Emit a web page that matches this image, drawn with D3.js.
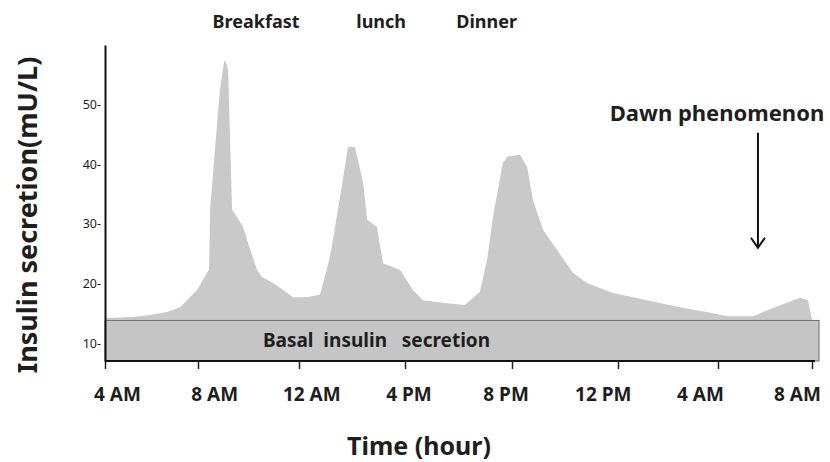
<!DOCTYPE html>
<html>
<head>
<meta charset="utf-8">
<script src="https://cdn.jsdelivr.net/npm/d3@7"></script>
<style>
  body { margin: 0; background: #fff; }
  text { font-family: "Noto Sans", "DejaVu Sans", sans-serif; fill: #1e1e1e; }
</style>
</head>
<body>
<script>
// chart size
var w = 830;
var h = 462;

// hours after 4 AM, and insulin secretion (mU/L)
var hours   = [0, 1.2, 1.94, 2.67, 3.23, 3.53, 3.96, 4.36, 4.44, 4.48, 4.67, 4.87, 5.03, 5.07, 5.19, 5.35,
               5.54, 5.78, 5.98, 6.34, 6.53, 6.97, 7.37, 7.76, 8.3, 8.79, 8.91, 9.17, 9.55, 9.85, 10.11,
               10.42, 10.57, 10.94, 11.17, 11.81, 12.3, 12.67, 13.57, 14.24, 14.8, 15.07, 15.29, 15.66,
               15.85, 16.3, 16.57, 16.79, 17.17, 17.7, 18.3, 18.83, 19.81, 21.16, 22.48, 23.8, 24.38,
               25.49, 26.34, 27.49, 27.83, 28];
var insulin = [14.2, 14.4, 14.7, 15.2, 16.0, 17.2, 18.9, 21.8, 22.3, 32.4, 42.4, 52.5, 57.0, 57.5, 55.9, 32.4,
               31.2, 29.5, 26.8, 22.3, 21.1, 20.1, 18.9, 17.7, 17.7, 18.1, 20.1, 24.5, 34.5, 42.9, 42.9,
               36.9, 30.7, 29.5, 23.4, 22.3, 18.9, 17.2, 16.7, 16.4, 18.6, 24.0, 31.2, 40.3,
               41.3, 41.6, 39.6, 34.0, 29.0, 25.6, 21.8, 20.1, 18.4, 17.2, 16.0, 15.0, 14.5,
               14.5, 15.9, 17.6, 17.2, 13.9];

// axis ticks
var tickHours  = [0, 4, 8, 12, 16, 20, 24, 28];
var tickLabels = ["4 AM", "8 AM", "12 AM", "4 PM", "8 PM", "12 PM", "4 AM", "8 AM"];
var yTicks     = [10, 20, 30, 40, 50];

// basal band and annotations
var basalTop   = 13.8;
var basalEnd   = 28.3;
var mealNames  = ["Breakfast", "lunch", "Dinner"];
var mealHours  = [6.3, 11.1, 15.05];
var dawnHour   = 25.7;
var dawnFrom   = 45.3;
var dawnTo     = 26.0;

var svg = d3.select("body").append("svg").attr("width", w).attr("height", h);

// the ticks in the original are not quite evenly spaced
var x = d3.scaleLinear()
    .domain(tickHours)
    .range([105, 198, 299, 405, 512, 618, 718, 812]);

// labels sit evenly under the ticks
var xLabel = d3.scaleLinear()
    .domain([0, 28])
    .range([117, 797]);

var y = d3.scaleLinear()
    .domain([7, 60])
    .range([361, 45]);

// insulin curve above the basal band
var data = hours.map(function(d, i) { return { h: d, v: insulin[i] }; });

var area = d3.area()
    .x(function(d) { return x(d.h); })
    .y0(y(basalTop))
    .y1(function(d) { return y(d.v); });

svg.append("path")
    .datum(data)
    .attr("d", area)
    .attr("fill", "#c9c9c9");

// basal insulin band
svg.append("rect")
    .attr("x", x(0))
    .attr("y", y(basalTop))
    .attr("width", x(basalEnd) - x(0))
    .attr("height", y(7) - y(basalTop))
    .attr("fill", "#c5c5c5")
    .attr("stroke", "#6e6e6e")
    .attr("stroke-width", 1);

svg.append("text")
    .attr("x", x(6.57))
    .attr("y", 347)
    .style("font-size", "19px")
    .style("font-weight", "bold")
    .style("white-space", "pre")
    .text("Basal  insulin   secretion");

// x axis: tick marks
var xAxis = svg.append("g")
    .attr("transform", "translate(0," + y(7) + ")")
    .call(d3.axisBottom(x).tickValues(tickHours).tickSize(8).tickFormat(""));
xAxis.select(".domain").attr("stroke", "#111").attr("stroke-width", 2)
    .attr("d", "M" + x(0) + ",0H" + (x(28) + 3));
xAxis.selectAll(".tick line").attr("stroke", "#222").attr("stroke-width", 1.5);

// x axis: labels
var xLab = svg.append("g")
    .attr("transform", "translate(0," + y(7) + ")")
    .call(d3.axisBottom(xLabel).tickValues(tickHours).tickSize(0).tickPadding(27)
      .tickFormat(function(d, i) { return tickLabels[i]; }));
xLab.select(".domain").remove();
xLab.selectAll("text")
    .style("font-size", "19px")
    .style("font-weight", "bold")
    .attr("fill", "#1e1e1e");

// y axis
var yAxis = svg.append("g")
    .attr("transform", "translate(" + x(0) + ",0)")
    .call(d3.axisLeft(y).tickValues(yTicks).tickSize(0).tickPadding(4)
      .tickFormat(function(d) { return d + "-"; }));
yAxis.select(".domain").attr("stroke", "#111").attr("stroke-width", 2);
yAxis.selectAll("text")
    .style("font-size", "12.5px")
    .attr("fill", "#333");

// axis titles
svg.append("text")
    .attr("x", 419)
    .attr("y", 455)
    .attr("text-anchor", "middle")
    .style("font-size", "25px")
    .style("font-weight", "bold")
    .text("Time (hour)");

svg.append("text")
    .attr("transform", "translate(37,215) rotate(-90)")
    .attr("text-anchor", "middle")
    .style("font-size", "27px")
    .style("font-weight", "bold")
    .text("Insulin secretion(mU/L)");

// meal labels over the peaks
svg.selectAll(".meal")
    .data(mealNames)
    .enter().append("text")
    .attr("class", "meal")
    .attr("x", function(d, i) { return x(mealHours[i]); })
    .attr("y", 28)
    .attr("text-anchor", "middle")
    .style("font-size", "18px")
    .style("font-weight", "bold")
    .text(function(d) { return d; });

// dawn phenomenon arrow
svg.append("text")
    .attr("x", 717)
    .attr("y", 121)
    .attr("text-anchor", "middle")
    .style("font-size", "22px")
    .style("font-weight", "bold")
    .text("Dawn phenomenon");

svg.append("line")
    .attr("x1", x(dawnHour)).attr("x2", x(dawnHour))
    .attr("y1", y(dawnFrom)).attr("y2", y(dawnTo))
    .attr("stroke", "#111").attr("stroke-width", 2);

svg.append("path")
    .attr("d", "M" + (x(dawnHour) - 7) + "," + (y(dawnTo) - 10) +
               "L" + x(dawnHour) + "," + y(dawnTo) +
               "L" + (x(dawnHour) + 7) + "," + (y(dawnTo) - 10))
    .attr("fill", "none")
    .attr("stroke", "#111")
    .attr("stroke-width", 2);
</script>
</body>
</html>
